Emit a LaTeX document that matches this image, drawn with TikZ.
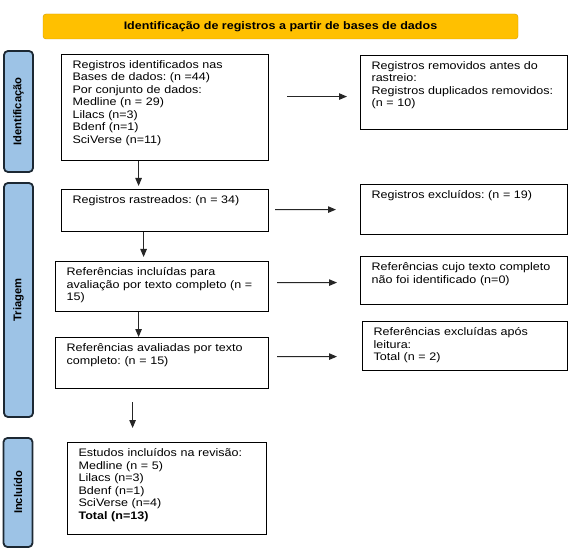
\documentclass[tikz,border=0pt]{standalone}
\usepackage{fontspec}
\setmainfont[FakeStretch=1.15]{Liberation Sans}
\newfontfamily\barfont{Liberation Sans}
\frenchspacing
\usetikzlibrary{arrows.meta}
\definecolor{bannergold}{HTML}{FFC000}
\definecolor{bannerline}{HTML}{D09A00}
\definecolor{barblue}{HTML}{9DC3E6}
\definecolor{barline}{HTML}{1C2833}
\tikzset{
  box/.style={draw, line width=1.2pt, rectangle, anchor=north west, align=left, inner xsep=11pt, inner ysep=6pt, font=\fontsize{10.9}{12.5}\selectfont, fill=white},
  head/.style={draw=bannerline, fill=bannergold, rounded corners=3pt, minimum width=475pt, minimum height=25pt, inner sep=0pt, font=\fontsize{10.9}{12.5}\selectfont\bfseries},
  phase/.style={draw=barline, fill=barblue, line width=1.8pt, rounded corners=4pt, rotate=90, inner sep=0pt, minimum height=29pt, font=\barfont\fontsize{11.2}{12.5}\selectfont\bfseries},
  arr/.style={-{Triangle[length=8pt, width=6.5pt]}, line width=1pt, draw=black!85},
}

\begin{document}
\begin{tikzpicture}[x=1pt, y=-1pt]
\useasboundingbox (0,0) rectangle (575,553);
% banner and phase bars
\node[head] (banner) at (280.5,26.5) {Identificação de registros a partir de bases de dados};
\node[phase, minimum width=121pt] (idbar) at (18.5,111.5) {Identificação};
\node[phase, minimum width=234pt] (trbar) at (18.5,300) {Triagem};
\node[phase, minimum width=109pt] (inbar) at (18,492.5) {Incluído};
% left column
\node[box, text width=185pt, text depth=86pt] (ident) at (61,54) {Registros identificados nas\\Bases de dados: (n =44)\\Por conjunto de dados:\\Medline (n = 29)\\Lilacs (n=3)\\Bdenf (n=1)\\SciVerse (n=11)};
\node[box, text width=185pt, text depth=22pt] (screen) at (61,189) {Registros rastreados: (n = 34)};
\node[box, text width=191pt, text depth=30pt] (fulltxt) at (55,261) {Referências incluídas para\\avaliação por texto completo (n =\\15)};
\node[box, text width=191pt, text depth=31pt] (assess) at (55,337) {Referências avaliadas por texto\\completo: (n = 15)};
\node[box, text width=177pt, text depth=72pt] (incl) at (67,442) {Estudos incluídos na revisão:\\Medline (n = 5)\\Lilacs (n=3)\\Bdenf (n=1)\\SciVerse (n=4)\\\textbf{Total (n=13)}};
% right column
\node[box, text width=185pt, text depth=54pt] (removed) at (360,55) {Registros removidos antes do\\rastreio:\\Registros duplicados removidos:\\(n = 10)};
\node[box, text width=185pt, text depth=30pt] (excl) at (360,184) {Registros excluídos: (n = 19)};
\node[box, text width=185pt, text depth=28pt] (notfound) at (360,256) {Referências cujo texto completo\\não foi identificado (n=0)};
\node[box, text width=183pt, text depth=29pt] (afterread) at (362,321) {Referências excluídas após\\leitura:\\Total (n = 2)};
% down arrows
\draw[arr, shorten >=3pt] ([xshift=-26.5pt]ident.south) -- ([xshift=-26.5pt]screen.north);
\draw[arr, shorten >=4pt] ([xshift=-21.5pt]screen.south) -- ([xshift=-18.5pt]fulltxt.north);
\draw[arr] ([xshift=-23.5pt]fulltxt.south) -- ([xshift=-23.5pt]assess.north);
\draw[arr, shorten <=13pt, shorten >=14pt] ([xshift=-29.5pt]assess.south) -- ([xshift=-34.5pt]incl.north);
% side arrows
\draw[arr, shorten <=18pt, shorten >=13pt] ([yshift=11pt]ident.east) -- ([yshift=-4pt]removed.west);
\draw[arr, shorten <=6pt, shorten >=24pt] ([yshift=1pt]screen.east) -- (excl.west);
\draw[arr, shorten <=8pt, shorten >=23pt] ([yshift=4pt]fulltxt.east) -- ([yshift=-2pt]notfound.west);
\draw[arr, shorten <=8pt, shorten >=25pt] ([yshift=6.5pt]assess.east) -- ([yshift=-10.5pt]afterread.west);
\end{tikzpicture}
\end{document}
